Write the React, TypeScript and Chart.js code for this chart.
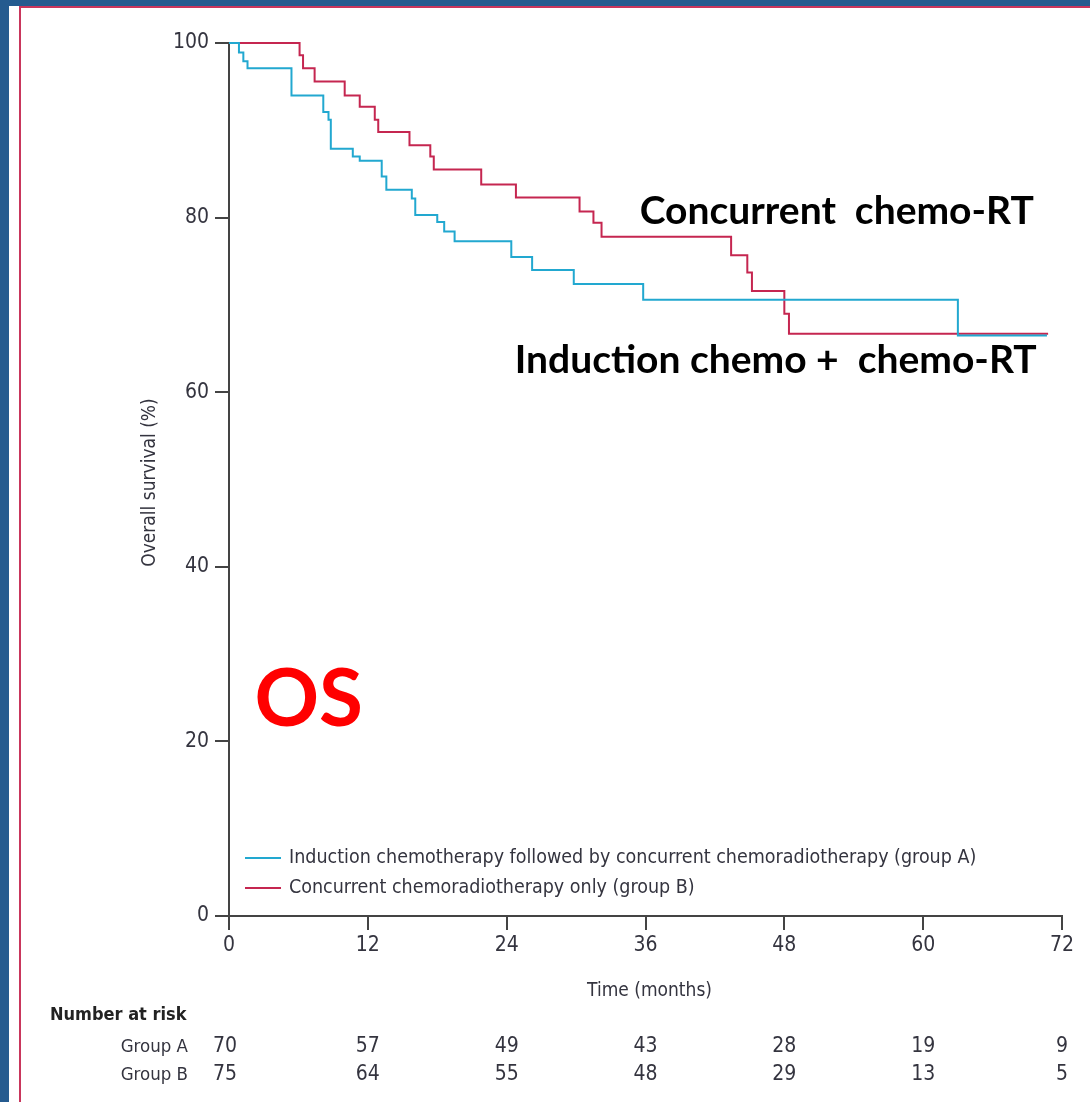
import React, { useEffect, useRef } from "react";
import { Chart, registerables } from "chart.js";

Chart.register(...registerables);

// Kaplan-Meier overall survival estimates: [month, survival %]
const groupAMonths = [0, 0.86, 1.24, 1.6, 5.4, 8.15, 8.6, 8.8, 10.7, 11.3, 13.2, 13.6, 15.8, 16.1, 18.0, 18.6, 19.5, 24.4, 26.2, 29.8, 35.8, 63.0, 70.7];
const groupASurvival = [100, 98.9, 97.9, 97.1, 94.0, 92.1, 91.2, 87.9, 87.0, 86.5, 84.7, 83.2, 82.2, 80.3, 79.5, 78.4, 77.3, 75.5, 74.0, 72.4, 70.6, 66.5, 66.5];

const groupBMonths = [0, 6.1, 6.4, 7.4, 10.0, 11.3, 12.6, 12.9, 15.6, 17.4, 17.7, 21.8, 24.8, 30.3, 31.5, 32.2, 43.4, 44.8, 45.2, 48.0, 48.4, 70.8];
const groupBSurvival = [100, 98.6, 97.1, 95.6, 94.0, 92.7, 91.2, 89.8, 88.3, 87.0, 85.5, 83.8, 82.3, 80.7, 79.4, 77.8, 75.7, 73.7, 71.6, 69.0, 66.7, 66.7];

// Number at risk table
const riskMonths = [0, 12, 24, 36, 48, 60, 72];
const groupARisk = [70, 57, 49, 43, 28, 19, 9];
const groupBRisk = [75, 64, 55, 48, 29, 13, 5];

const seriesLabels = [
  "Induction chemotherapy followed by concurrent chemoradiotherapy (group A)",
  "Concurrent chemoradiotherapy only (group B)",
];
const riskRowLabels = ["Group A", "Group B"];

const COLOR_A = "#22a8d0";
const COLOR_B = "#c52650";
const AXIS = "#444444";
const TEXT = "#34343f";
const NARROW = "'Liberation Sans Narrow', 'DejaVu Sans Condensed', sans-serif";
const BOLD_SANS = "Lato, 'Open Sans', sans-serif";

const toPoints = (xs: number[], ys: number[]) => xs.map((x, i) => ({ x, y: ys[i] }));

const decorations = {
  id: "kmDecorations",
  beforeDraw(chart: any) {
    const { ctx, width, height } = chart;
    ctx.save();
    // slide frame
    ctx.fillStyle = "#255b8f";
    ctx.fillRect(0, 0, width, height);
    ctx.fillStyle = "#ffffff";
    ctx.fillRect(9, 6, width - 9, height - 6);
    ctx.fillStyle = "#c9365c";
    ctx.fillRect(19, 6, 2, height - 6);
    ctx.fillRect(19, 6, width - 19, 2);
    ctx.restore();
  },
  afterDraw(chart: any) {
    const { ctx, chartArea } = chart;
    const xs = chart.scales.x;
    const ys = chart.scales.y;
    ctx.save();

    // legend
    const legendRows = [chartArea.bottom - 58, chartArea.bottom - 28];
    const legendColors = [COLOR_A, COLOR_B];
    legendRows.forEach((ly: number, i: number) => {
      ctx.strokeStyle = legendColors[i];
      ctx.lineWidth = 2;
      ctx.beginPath();
      ctx.moveTo(chartArea.left + 16, ly);
      ctx.lineTo(chartArea.left + 52, ly);
      ctx.stroke();
      ctx.fillStyle = TEXT;
      ctx.font = `19.5px ${NARROW}`;
      ctx.textAlign = "left";
      ctx.textBaseline = "middle";
      ctx.fillText(seriesLabels[i], chartArea.left + 60, ly);
    });

    // curve annotations
    ctx.fillStyle = "#000000";
    ctx.font = `bold 39px ${BOLD_SANS}`;
    ctx.textAlign = "left";
    ctx.textBaseline = "alphabetic";
    ctx.fillText("Concurrent  chemo-RT", xs.getPixelForValue(35.5), ys.getPixelForValue(79.3));
    ctx.fillText("Induction chemo +  chemo-RT", xs.getPixelForValue(24.7), ys.getPixelForValue(62.2));

    ctx.fillStyle = "#ff0000";
    ctx.font = `bold 80px ${BOLD_SANS}`;
    ctx.fillText("OS", xs.getPixelForValue(2.2), ys.getPixelForValue(21.8));

    // axis titles
    ctx.fillStyle = TEXT;
    ctx.font = `19px ${NARROW}`;
    ctx.textAlign = "center";
    ctx.textBaseline = "middle";
    ctx.fillText("Time (months)", (chartArea.left + chartArea.right) / 2 + 4, chartArea.bottom + 75);
    ctx.save();
    ctx.translate(150, (chartArea.top + chartArea.bottom) / 2 + 3);
    ctx.rotate(-Math.PI / 2);
    ctx.fillText("Overall survival (%)", 0, 0);
    ctx.restore();

    // number at risk
    ctx.textAlign = "left";
    ctx.font = `bold 18px ${NARROW}`;
    ctx.fillStyle = "#222222";
    ctx.fillText("Number at risk", 50, chartArea.bottom + 99);
    ctx.fillStyle = TEXT;
    const rowY = [chartArea.bottom + 131, chartArea.bottom + 159];
    const rows = [groupARisk, groupBRisk];
    rows.forEach((row, r) => {
      ctx.textAlign = "right";
      ctx.font = `18.5px ${NARROW}`;
      ctx.fillText(riskRowLabels[r], 188, rowY[r]);
      ctx.textAlign = "center";
      ctx.font = `21px ${NARROW}`;
      row.forEach((n, i) => {
        const px = xs.getPixelForValue(riskMonths[i]) - (i === 0 ? 4 : 0);
        ctx.fillText(String(n), px, rowY[r]);
      });
    });

    ctx.restore();
  },
};

export default function App() {
  const ref = useRef<HTMLCanvasElement | null>(null);

  useEffect(() => {
    document.body.style.margin = "0";
    if (!ref.current) return;
    const chart = new Chart(ref.current, {
      type: "line",
      data: {
        datasets: [
          {
            label: seriesLabels[0],
            data: toPoints(groupAMonths, groupASurvival),
            borderColor: COLOR_A,
            borderWidth: 2,
            stepped: "before",
            pointRadius: 0,
            fill: false,
            clip: 6,
          },
          {
            label: seriesLabels[1],
            data: toPoints(groupBMonths, groupBSurvival),
            borderColor: COLOR_B,
            borderWidth: 2,
            stepped: "before",
            pointRadius: 0,
            fill: false,
            clip: 6,
          },
        ],
      },
      options: {
        responsive: false,
        animation: false,
        layout: { padding: { top: 43, right: 28, left: 0, bottom: 0 } },
        plugins: { legend: { display: false }, tooltip: { enabled: false } },
        scales: {
          x: {
            type: "linear",
            min: 0,
            max: 72,
            ticks: { stepSize: 12, color: TEXT, font: { family: NARROW, size: 21 }, padding: 3, maxRotation: 0 },
            grid: { drawOnChartArea: false, drawTicks: true, tickLength: 14, color: AXIS, lineWidth: 2 },
            border: { display: true, color: AXIS, width: 2 },
            afterFit: (s: any) => { s.height = 186; },
          },
          y: {
            min: 0,
            max: 100,
            ticks: { stepSize: 20, color: TEXT, font: { family: NARROW, size: 21 }, padding: 6 },
            grid: { drawOnChartArea: false, drawTicks: true, tickLength: 14, color: AXIS, lineWidth: 2 },
            border: { display: true, color: AXIS, width: 2 },
            afterFit: (s: any) => { s.width = 229; },
          },
        },
      },
      plugins: [decorations],
    });
    return () => chart.destroy();
  }, []);

  return <canvas ref={ref} width={1090} height={1102} style={{ display: "block", width: 1090, height: 1102 }} />;
}
